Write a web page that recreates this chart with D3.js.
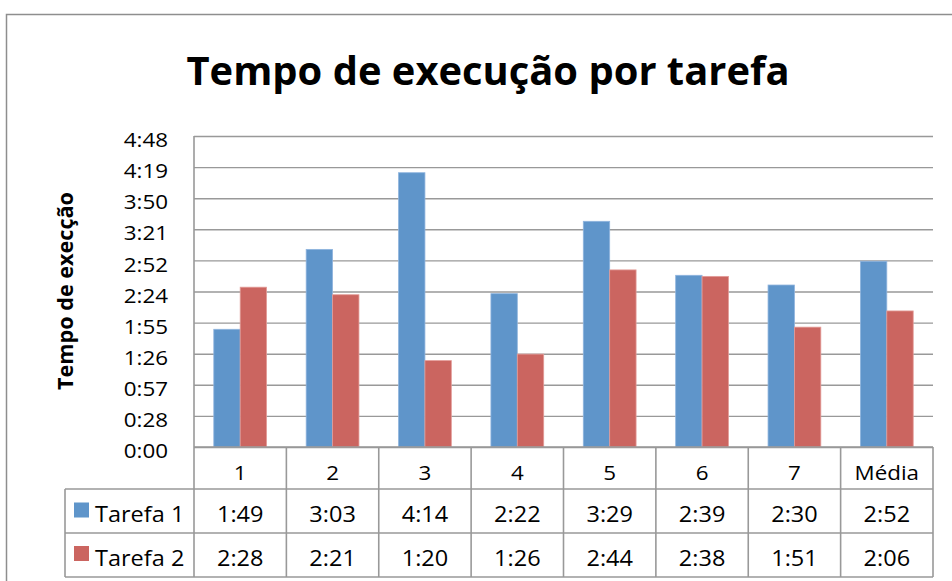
<!DOCTYPE html>
<html>
<head>
<meta charset="utf-8">
<script src="https://cdn.jsdelivr.net/npm/d3@7"></script>
<style>
  html, body { margin: 0; padding: 0; background: #ffffff; }
  svg { display: block; font-family: "Open Sans", "Noto Sans", sans-serif; }
</style>
</head>
<body>
<div id="chart"></div>
<script>
// Execution time per task, in m:ss, for two runs
const categories = ["1", "2", "3", "4", "5", "6", "7", "Média"];
const seriesNames = ["Tarefa 1", "Tarefa 2"];
const tarefa1 = ["1:49", "3:03", "4:14", "2:22", "3:29", "2:39", "2:30", "2:52"];
const tarefa2 = ["2:28", "2:21", "1:20", "1:26", "2:44", "2:38", "1:51", "2:06"];
const seriesColors = ["#5f95ca", "#cb6560"];
const seriesEdges = ["#8fb4de", "#e39c98"];

// Axis ticks every 28.8 s (0.02 of a day, as the spreadsheet steps them)
const tickSeconds = [0, 28.8, 57.6, 86.4, 115.2, 144, 172.8, 201.6, 230.4, 259.2, 288];
const tickLabels = ["0:00", "0:28", "0:57", "1:26", "1:55", "2:24", "2:52", "3:21", "3:50", "4:19", "4:48"];

const toSeconds = s => { const [m, ss] = s.split(":").map(Number); return m * 60 + ss; };
const seriesLabels = [tarefa1, tarefa2];

const W = 952, H = 581;
const plot = { left: 194, right: 933, top: 136, bottom: 447 };
const rowEdges = [447, 489, 533, 577];   // category row, Tarefa 1 row, Tarefa 2 row
const legendLeft = 65;
const gridColor = "#999999";
const stretch = 1.12;                    // widen the body text a little

const svg = d3.select("#chart").append("svg").attr("width", W).attr("height", H);

// places a horizontally widened label at (px, py)
function label(parent, px, py, txt, size, anchor) {
  return parent.append("text")
    .attr("transform", `translate(${px},${py}) scale(${stretch},1)`)
    .attr("text-anchor", anchor || "start")
    .attr("font-size", size).attr("fill", "#000")
    .text(txt);
}

// chart frame
svg.append("rect")
  .attr("x", 6.5).attr("y", 14.5).attr("width", 1000).attr("height", 700)
  .attr("fill", "none").attr("stroke", "#8e8e8e").attr("stroke-width", 1.5);

// title
svg.append("text")
  .attr("x", 488).attr("y", 85)
  .attr("text-anchor", "middle")
  .attr("font-weight", 700).attr("font-size", 39)
  .attr("textLength", 603).attr("lengthAdjust", "spacingAndGlyphs")
  .attr("fill", "#000")
  .text("Tempo de execução por tarefa");

const x = d3.scaleBand().domain(categories).range([plot.left, plot.right]).paddingInner(0).paddingOuter(0);
const xs = d3.scaleBand().domain(seriesNames).range([0, x.bandwidth()]).paddingInner(0).paddingOuter(0.75);
const y = d3.scaleLinear().domain([0, 288]).range([plot.bottom, plot.top]);

// gridlines + tick labels
const yAxis = d3.axisLeft(y)
  .tickValues(tickSeconds)
  .tickFormat((d, i) => tickLabels[i])
  .tickSizeInner(-(plot.right - plot.left))
  .tickSizeOuter(0)
  .tickPadding(26);

const gy = svg.append("g").attr("transform", `translate(${plot.left},0)`).call(yAxis);
gy.select(".domain").remove();
gy.selectAll(".tick line").attr("stroke", gridColor).attr("stroke-width", 1.4);
gy.selectAll(".tick text")
  .attr("font-size", 20).attr("fill", "#000")
  .attr("font-family", "\"Open Sans\", sans-serif")
  .attr("x", -26 / stretch)
  .attr("transform", `scale(${stretch},1)`)
  .attr("dy", "0.53em");

// y axis title
svg.append("text")
  .attr("transform", "translate(73,291) rotate(-90)")
  .attr("text-anchor", "middle")
  .attr("font-weight", 700).attr("font-size", 22)
  .attr("textLength", 198).attr("lengthAdjust", "spacingAndGlyphs")
  .attr("fill", "#000")
  .text("Tempo de execção");

// bars
const barData = [];
categories.forEach((c, i) => {
  seriesNames.forEach((s, j) => {
    barData.push({ cat: c, series: s, j, value: toSeconds(seriesLabels[j][i]) });
  });
});

svg.append("g").selectAll("rect").data(barData).join("rect")
  .attr("x", d => x(d.cat) + xs(d.series))
  .attr("y", d => y(d.value))
  .attr("width", xs.bandwidth())
  .attr("height", d => y(0) - y(d.value))
  .attr("fill", d => seriesColors[d.j])
  .attr("stroke", d => seriesEdges[d.j])
  .attr("stroke-width", 0.8);

// data table
const table = svg.append("g").attr("stroke", gridColor).attr("stroke-width", 1.6).attr("fill", "none");
// vertical axis line through the plot and table
table.append("line").attr("x1", plot.left).attr("x2", plot.left).attr("y1", plot.top).attr("y2", rowEdges[3]);
// column separators
const colEdges = categories.map(c => x(c) + x.bandwidth());
table.selectAll("line.col").data(colEdges).join("line").attr("class", "col")
  .attr("x1", d => d).attr("x2", d => d)
  .attr("y1", rowEdges[0]).attr("y2", rowEdges[3]);
// horizontal rules
table.append("line").attr("x1", plot.left).attr("x2", plot.right).attr("y1", rowEdges[0]).attr("y2", rowEdges[0]);
rowEdges.slice(1).forEach(r => {
  table.append("line").attr("x1", legendLeft).attr("x2", plot.right).attr("y1", r).attr("y2", r);
});
table.append("line").attr("x1", legendLeft).attr("x2", legendLeft).attr("y1", rowEdges[1]).attr("y2", rowEdges[3]);

// category labels
const gCat = svg.append("g");
categories.forEach(c => label(gCat, x(c) + x.bandwidth() / 2, 479.5, c, 20, "middle"));

// value rows with legend keys
const rowBase = [522, 565.5];
seriesNames.forEach((s, j) => {
  const g = svg.append("g");
  g.append("rect")
    .attr("x", 74).attr("y", rowBase[j] - 19.5)
    .attr("width", 15).attr("height", 15)
    .attr("fill", seriesColors[j]);
  label(g, 95, rowBase[j], s, 21, "start");
  seriesLabels[j].forEach((v, i) => {
    label(g, x(categories[i]) + x.bandwidth() / 2, rowBase[j], v, 21, "middle");
  });
});
</script>
</body>
</html>
